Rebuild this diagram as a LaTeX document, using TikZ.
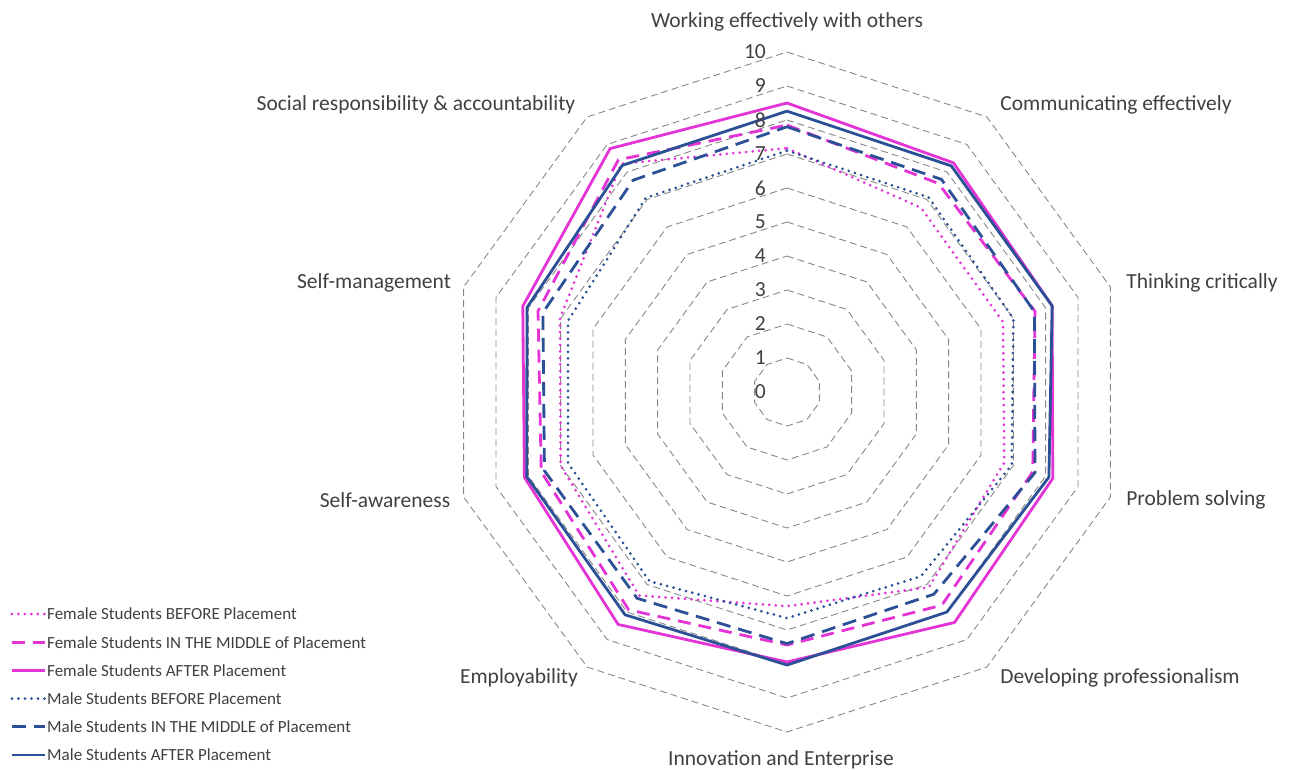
\documentclass[tikz,border=0pt]{standalone}
\usepackage{fontspec}
\setmainfont{Carlito}
\usetikzlibrary{positioning}
\definecolor{fmag}{RGB}{228,52,214}
\definecolor{mblue}{RGB}{44,80,150}
\definecolor{gridgray}{RGB}{135,135,135}
\definecolor{txtgray}{RGB}{64,64,64}
\tikzset{
  gridline/.style={gridgray,line width=0.9pt,dash pattern=on 7pt off 4pt},
  fbefore/.style={fmag,line width=3pt,line cap=round,dash pattern=on 0pt off 6.5pt},
  fmiddle/.style={fmag,line width=2.8pt,dash pattern=on 13pt off 8pt},
  fafter/.style={fmag,line width=2.8pt,line join=round},
  mbefore/.style={mblue,line width=3pt,line cap=round,dash pattern=on 0pt off 6.5pt},
  mmiddle/.style={mblue,line width=2.8pt,dash pattern=on 14pt off 8pt},
  mafter/.style={mblue,line width=2.8pt,line join=round},
}

\begin{document}
\begin{tikzpicture}[x=1pt,y=1pt,font=\fontsize{21.5}{24}\selectfont,text=txtgray]
    \useasboundingbox (-787,-377) rectangle (505,392);
    % grid, levels 1..10
    \begin{scope}[x=34pt,y=34pt]
    \foreach \r in {1,...,10}{
      \draw[gridline] (90:\r) -- (54:\r) -- (18:\r) -- (-18:\r) -- (-54:\r) -- (-90:\r)
        -- (-126:\r) -- (-162:\r) -- (162:\r) -- (126:\r) -- cycle;
    }
    % series
    \draw[fbefore] (90:7.17) -- (54:6.7) -- (18:6.68) -- (-18:6.72) -- (-54:7.1) -- (-90:6.3)
      -- (-126:7.4) -- (-162:7.0) -- (162:7.02) -- (126:8.3) -- cycle;
    \draw[fmiddle] (90:7.85) -- (54:7.58) -- (18:7.67) -- (-18:7.6) -- (-54:7.75) -- (-90:7.44)
      -- (-126:7.92) -- (-162:7.6) -- (162:7.7) -- (126:8.44) -- cycle;
    \draw[fafter] (90:8.5) -- (54:8.33) -- (18:8.2) -- (-18:8.22) -- (-54:8.38) -- (-90:7.94)
      -- (-126:8.45) -- (-162:8.12) -- (162:8.17) -- (126:8.85) -- cycle;
    \draw[mbefore] (90:7.1) -- (54:7.08) -- (18:7.0) -- (-18:6.95) -- (-54:6.7) -- (-90:6.65)
      -- (-126:6.88) -- (-162:6.77) -- (162:6.77) -- (126:7.06) -- cycle;
    \draw[mmiddle] (90:7.8) -- (54:7.73) -- (18:7.65) -- (-18:7.67) -- (-54:7.35) -- (-90:7.4)
      -- (-126:7.5) -- (-162:7.5) -- (162:7.55) -- (126:7.7) -- cycle;
    \draw[mafter] (90:8.26) -- (54:8.22) -- (18:8.2) -- (-18:8.1) -- (-54:8.0) -- (-90:8.03)
      -- (-126:8.1) -- (-162:8.05) -- (162:8.04) -- (126:8.24) -- cycle;
    \end{scope}
    % scale numbers
    \foreach \k in {0,...,10}{\node[anchor=east,inner sep=0pt] (tk\k) at (-21,34*\k) {\k};}
    % axis names
    \foreach \x/\y/\t [count=\n from 0] in {0/370/Working effectively with others,
        329/287/Communicating effectively, 415/109/Thinking critically, 409/-108/Problem solving,
        333/-286/Developing professionalism, -6/-368/Innovation and Enterprise,
        -268/-286/Employability, -402/-108/Self-awareness, -413/109/Self-management,
        -371/287/Social responsibility \& accountability}
      {\node (cat\n) at (\x,\y) {\t};}
    % legend
    \foreach \s/\t [count=\n] in {fbefore/Female Students BEFORE Placement,
        fmiddle/Female Students IN THE MIDDLE of Placement, fafter/Female Students AFTER Placement,
        mbefore/Male Students BEFORE Placement, mmiddle/Male Students IN THE MIDDLE of Placement,
        mafter/Male Students AFTER Placement}
      {\coordinate (ls\n) at (-775,-222-28.2*\n+28.2);
       \node[anchor=west,inner sep=0pt,font=\fontsize{17}{19}\selectfont] (lg\n) at (-740,-222-28.2*\n+28.2) {\t};
       \draw[\s] (ls\n) -- ([xshift=-2pt]lg\n.west);}
\end{tikzpicture}
\end{document}
